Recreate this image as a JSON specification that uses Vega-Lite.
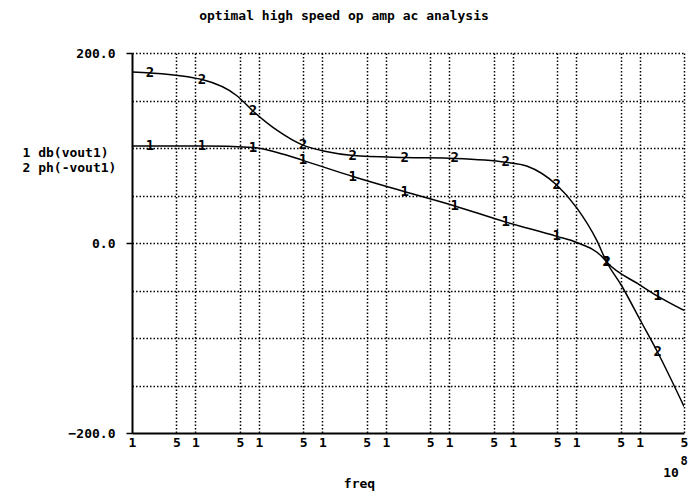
{
  "$schema": "https://vega.github.io/schema/vega-lite/v6.json",
  "width": 552,
  "height": 380,
  "autosize": {"type": "none"},
  "padding": {"left": 132, "top": 53, "right": 5, "bottom": 65},
  "background": "white",
  "title": {
    "text": "optimal high speed op amp ac analysis",
    "font": "DejaVu Sans Mono",
    "fontSize": 13,
    "fontWeight": "bold",
    "color": "black",
    "anchor": "middle",
    "frame": "group",
    "dx": -64,
    "offset": 24
  },
  "config": {
    "view": {"stroke": null},
    "axis": {
      "labelFont": "DejaVu Sans Mono",
      "labelFontSize": 13,
      "labelFontWeight": "bold",
      "labelColor": "black",
      "titleFont": "DejaVu Sans Mono",
      "titleFontSize": 13,
      "titleFontWeight": "bold",
      "titleColor": "black",
      "domainColor": "black",
      "domainWidth": 2,
      "tickColor": "black",
      "gridColor": "black",
      "gridDash": [1.5, 2],
      "gridWidth": 1.5,
      "gridOpacity": 1
    }
  },
  "datasets": {
    "curves": [
      {"f": 1, "v": 102, "s": "1"},
      {"f": 1.92, "v": 102, "s": "1"},
      {"f": 12.7, "v": 102, "s": "1"},
      {"f": 80.5, "v": 100.5, "s": "1"},
      {"f": 200, "v": 95, "s": "1"},
      {"f": 493, "v": 87, "s": "1"},
      {"f": 3020, "v": 70, "s": "1"},
      {"f": 19900, "v": 54, "s": "1"},
      {"f": 122000, "v": 39, "s": "1"},
      {"f": 776000, "v": 22, "s": "1"},
      {"f": 4930000, "v": 7, "s": "1"},
      {"f": 10200000, "v": 0.5, "s": "1"},
      {"f": 26000000, "v": -15, "s": "1"},
      {"f": 30200000, "v": -20, "s": "1"},
      {"f": 100000000, "v": -44, "s": "1"},
      {"f": 192000000, "v": -56, "s": "1"},
      {"f": 500000000, "v": -71, "s": "1"},
      {"f": 1, "v": 180, "s": "2"},
      {"f": 1.92, "v": 179, "s": "2"},
      {"f": 12.7, "v": 172, "s": "2"},
      {"f": 45, "v": 155, "s": "2"},
      {"f": 80.5, "v": 139, "s": "2"},
      {"f": 200, "v": 118, "s": "2"},
      {"f": 493, "v": 103, "s": "2"},
      {"f": 1200, "v": 96, "s": "2"},
      {"f": 3020, "v": 92, "s": "2"},
      {"f": 19900, "v": 90, "s": "2"},
      {"f": 122000, "v": 89, "s": "2"},
      {"f": 776000, "v": 85, "s": "2"},
      {"f": 1660000, "v": 81, "s": "2"},
      {"f": 4930000, "v": 61, "s": "2"},
      {"f": 10200000, "v": 37, "s": "2"},
      {"f": 21000000, "v": 3, "s": "2"},
      {"f": 30200000, "v": -20, "s": "2"},
      {"f": 52000000, "v": -45, "s": "2"},
      {"f": 100000000, "v": -80, "s": "2"},
      {"f": 192000000, "v": -115, "s": "2"},
      {"f": 500000000, "v": -172, "s": "2"}
    ],
    "markers": [
      {"f": 1.92, "v": 102, "m": "1"},
      {"f": 12.7, "v": 102, "m": "1"},
      {"f": 80.5, "v": 100.5, "m": "1"},
      {"f": 493, "v": 87, "m": "1"},
      {"f": 3020, "v": 70, "m": "1"},
      {"f": 19900, "v": 54, "m": "1"},
      {"f": 122000, "v": 39, "m": "1"},
      {"f": 776000, "v": 22, "m": "1"},
      {"f": 4930000, "v": 7, "m": "1"},
      {"f": 30200000, "v": -20, "m": "1"},
      {"f": 192000000, "v": -56, "m": "1"},
      {"f": 1.92, "v": 179, "m": "2"},
      {"f": 12.7, "v": 172, "m": "2"},
      {"f": 80.5, "v": 139, "m": "2"},
      {"f": 493, "v": 103, "m": "2"},
      {"f": 3020, "v": 92, "m": "2"},
      {"f": 19900, "v": 90, "m": "2"},
      {"f": 122000, "v": 89, "m": "2"},
      {"f": 776000, "v": 85, "m": "2"},
      {"f": 4930000, "v": 61, "m": "2"},
      {"f": 30200000, "v": -20, "m": "2"},
      {"f": 192000000, "v": -115, "m": "2"}
    ],
    "exponent": [
      {"f": 500000000, "v": -200, "t": "10", "k": "base"},
      {"f": 500000000, "v": -200, "t": "8", "k": "sup"}
    ]
  },
  "layer": [
    {
      "data": {"name": "curves"},
      "mark": {"type": "line", "interpolate": "monotone", "color": "black", "strokeWidth": 1.5, "clip": true},
      "encoding": {
        "x": {
          "field": "f",
          "type": "quantitative",
          "scale": {"type": "log", "domain": [1, 500000000], "nice": false},
          "axis": {
            "title": "freq",
            "titleX": 227,
            "titleY": 50,
            "titleBaseline": "middle",
            "values": [1, 5, 10, 50, 100, 500, 1000, 5000, 10000, 50000, 100000, 500000, 1000000, 5000000, 10000000, 50000000, 100000000, 500000000],
            "labelExpr": "substring(format(datum.value, '.0e'), 0, 1)",
            "labelFlush": false,
            "labelOverlap": false,
            "labelPadding": 3,
            "labelBaseline": "top",
            "tickSize": 0,
            "grid": true,
            "gridOpacity": {"condition": {"test": "datum.value == 1", "value": 0}, "value": 1}
          }
        },
        "y": {
          "field": "v",
          "type": "quantitative",
          "scale": {"domain": [-200, 200], "nice": false},
          "axis": {
            "title": ["1 db(vout1)", "2 ph(-vout1)"],
            "titleAngle": 0,
            "titleAlign": "left",
            "titleBaseline": "middle",
            "titleX": -110,
            "titleY": 99,
            "titleLineHeight": 15,
            "values": [-200, -150, -100, -50, 0, 50, 100, 150, 200],
            "labelExpr": "datum.value % 200 == 0 ? format(datum.value, '.1f') : ''",
            "labelPadding": 11,
            "tickSize": 6,
            "tickWidth": 1.5,
            "tickOpacity": {"condition": {"test": "datum.value % 200 == 0", "value": 1}, "value": 0},
            "grid": true,
            "gridOpacity": {"condition": {"test": "datum.value == -200", "value": 0}, "value": 1}
          }
        },
        "detail": {"field": "s"}
      }
    },
    {
      "data": {"name": "markers"},
      "mark": {"type": "text", "font": "DejaVu Sans Mono", "fontSize": 14, "fontWeight": "bold", "color": "black", "baseline": "middle", "align": "center"},
      "encoding": {
        "x": {"field": "f", "type": "quantitative"},
        "y": {"field": "v", "type": "quantitative"},
        "text": {"field": "m"}
      }
    },
    {
      "data": {"name": "exponent"},
      "transform": [{"filter": "datum.k == 'base'"}],
      "mark": {"type": "text", "font": "DejaVu Sans Mono", "fontSize": 13, "fontWeight": "bold", "color": "black", "baseline": "middle", "align": "center", "dx": -13, "dy": 40},
      "encoding": {
        "x": {"field": "f", "type": "quantitative"},
        "y": {"field": "v", "type": "quantitative"},
        "text": {"field": "t"}
      }
    },
    {
      "data": {"name": "exponent"},
      "transform": [{"filter": "datum.k == 'sup'"}],
      "mark": {"type": "text", "font": "DejaVu Sans Mono", "fontSize": 12, "fontWeight": "bold", "color": "black", "baseline": "middle", "align": "center", "dx": 0, "dy": 28},
      "encoding": {
        "x": {"field": "f", "type": "quantitative"},
        "y": {"field": "v", "type": "quantitative"},
        "text": {"field": "t"}
      }
    }
  ]
}
